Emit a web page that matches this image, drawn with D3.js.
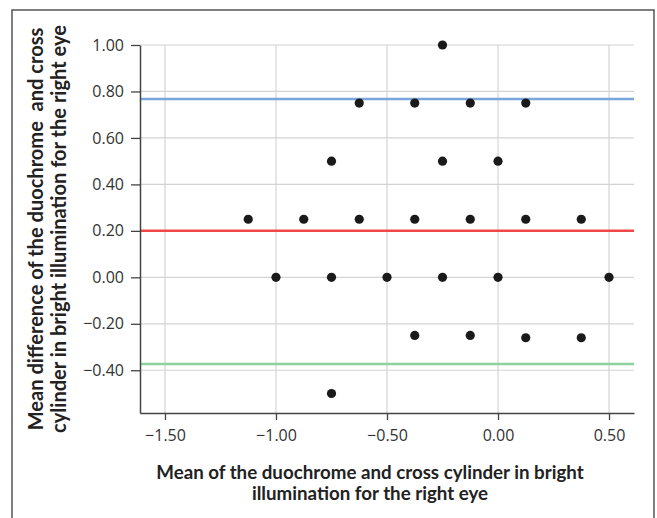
<!DOCTYPE html>
<html lang="en">
<head>
<meta charset="UTF-8">
<script src="https://d3js.org/d3.v7.min.js"></script>
<title>Bland-Altman right eye</title>
<style>
    body {margin: 0; background: #fff;}
    svg text {font-family: "Open Sans", "DejaVu Sans", sans-serif;}
    .tick text {fill: #333; font-size: 16px;}
    .title {font-family: Lato, "Open Sans", sans-serif; font-weight: bold; fill: #222; white-space: pre;}
</style>
</head>
<body>
<svg></svg>
<script>

    // points (mean, difference), grouped by difference row
    var meanVals = [-0.25,
                    -0.625, -0.375, -0.125, 0.125,
                    -0.75, -0.25, 0.0,
                    -1.125, -0.875, -0.625, -0.375, -0.125, 0.125, 0.375,
                    -1.0, -0.75, -0.5, -0.25, 0.0, 0.5,
                    -0.375, -0.125, 0.125, 0.375,
                    -0.75];
    var diffVals = [1.0,
                    0.75, 0.75, 0.75, 0.75,
                    0.5, 0.5, 0.5,
                    0.25, 0.25, 0.25, 0.25, 0.25, 0.25, 0.25,
                    0, 0, 0, 0, 0, 0,
                    -0.25, -0.25, -0.26, -0.26,
                    -0.5];

    // mean difference and limits of agreement
    var limitVals = [0.768, 0.20, -0.373];
    var limitColors = ["#7aa6dc", "#f04848", "#8fd19e"];

    var xTicks = [-1.5, -1.0, -0.5, 0.0, 0.5];
    var yTicks = [-0.4, -0.2, 0.0, 0.2, 0.4, 0.6, 0.8, 1.0];

    var xTitle = ["Mean of the duochrome and cross cylinder in bright",
                  "illumination for the right eye"];
    var yTitle = ["Mean difference of the duochrome  and cross",
                  "cylinder in bright illumination for the right eye"];

    var W = 657, H = 518;
    var plotL = 140, plotR = 634, plotT = 45, plotB = 413;

    var svg = d3.select("svg").attr("width", W).attr("height", H);

    // frame around the figure
    svg.append("rect")
        .attr("x", 12).attr("y", 10)
        .attr("width", 642).attr("height", 520)
        .attr("fill", "none")
        .attr("stroke", "#555")
        .attr("stroke-width", 1.5);

    var x = d3.scaleLinear().domain([-1.6125, 0.6125]).range([plotL, plotR]);
    var y = d3.scaleLinear().domain([-0.584, 1.0]).range([plotB, plotT]);

    // grid
    svg.append("g").selectAll("line").data(xTicks).enter()
        .append("line")
        .attr("x1", d => x(d)).attr("x2", d => x(d))
        .attr("y1", plotT).attr("y2", plotB)
        .attr("stroke", "#d4d4d4").attr("stroke-width", 1.2);
    svg.append("g").selectAll("line").data(yTicks).enter()
        .append("line")
        .attr("x1", plotL).attr("x2", plotR)
        .attr("y1", d => y(d)).attr("y2", d => y(d))
        .attr("stroke", "#d4d4d4").attr("stroke-width", 1.2);

    // limit lines
    svg.append("g").selectAll("line").data(limitVals).enter()
        .append("line")
        .attr("x1", plotL).attr("x2", plotR)
        .attr("y1", d => y(d)).attr("y2", d => y(d))
        .attr("stroke", (d, i) => limitColors[i])
        .attr("stroke-width", 2.5);

    // axes
    var fmt = d3.format(".2f");
    var xAxis = svg.append("g")
        .attr("transform", "translate(0," + plotB + ")")
        .call(d3.axisBottom(x).tickValues(xTicks).tickFormat(fmt)
              .tickSize(7).tickSizeOuter(0).tickPadding(10));
    var yAxis = svg.append("g")
        .attr("transform", "translate(" + plotL + ",0)")
        .call(d3.axisLeft(y).tickValues(yTicks).tickFormat(fmt)
              .tickSize(9).tickSizeOuter(0).tickPadding(7));
    [xAxis, yAxis].forEach(function(a) {
        a.select(".domain").attr("stroke", "#444").attr("stroke-width", 1.5);
        a.selectAll(".tick line").attr("stroke", "#444").attr("stroke-width", 1.3);
        a.attr("font-size", null).attr("font-family", null);
    });

    // points
    svg.append("g").selectAll("circle").data(meanVals).enter()
        .append("circle")
        .attr("cx", d => x(d))
        .attr("cy", (d, i) => y(diffVals[i]))
        .attr("r", 4.6)
        .attr("fill", "#1a1a1a");

    // titles
    var xt = svg.append("text").attr("class", "title")
        .attr("text-anchor", "middle").attr("font-size", 16);
    xt.selectAll("tspan").data(xTitle).enter()
        .append("tspan")
        .attr("x", 370)
        .attr("y", (d, i) => 479 + i * 21)
        .text(d => d);

    var yt = svg.append("text").attr("class", "title")
        .attr("text-anchor", "middle").attr("font-size", 16)
        .attr("transform", "translate(0,229) rotate(-90)");
    yt.selectAll("tspan").data(yTitle).enter()
        .append("tspan")
        .attr("x", 0)
        .attr("y", (d, i) => 43 + i * 23)
        .text(d => d);

    // squeeze the bold titles to the width they take in the original
    var w1 = xt.select("tspan").node().getComputedTextLength();
    xt.attr("font-size", 16 * 428 / w1);
    var w2 = yt.selectAll("tspan").nodes()[1].getComputedTextLength();
    yt.attr("font-size", 16 * 408 / w2);

</script>
</body>
</html>
